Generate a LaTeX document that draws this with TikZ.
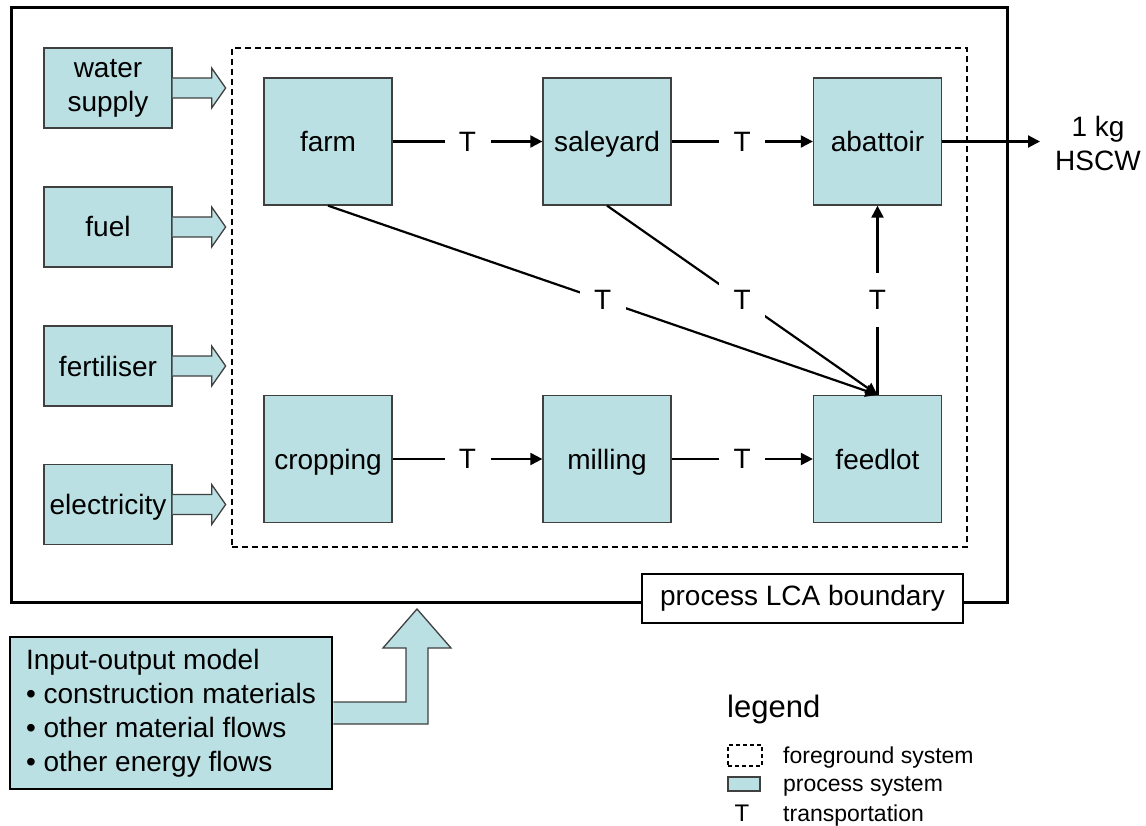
\documentclass[tikz,border=0pt]{standalone}
\usepackage{fontspec}
\setmainfont{Liberation Sans}
\usetikzlibrary{arrows.meta,calc}
\definecolor{procfill}{HTML}{BBE0E3}
\definecolor{procdraw}{HTML}{404040}
\begin{document}
\begin{tikzpicture}[x=1pt,y=-1pt,
  every node/.style={font=\fontsize{28}{34}\selectfont},
  procbase/.style={draw=procdraw, line width=1.3pt, fill=procfill, minimum width=128pt, minimum height=127pt, inner sep=0pt, align=center},
  proc/.style={procbase, text height=20pt, text depth=0pt},
  inbox/.style={proc, minimum height=80pt},
  conn/.style={line width=2.2pt, -{Triangle[length=12pt,width=12pt]}},
  tlab/.style={fill=white, inner sep=0pt, minimum width=46pt, minimum height=54pt},
  blockarrow/.style={draw=procdraw, line width=1.3pt, fill=procfill, line join=miter},
  legtext/.style={anchor=base west, inner sep=0pt, font=\fontsize{23}{28}\selectfont},
]
\useasboundingbox (0,0) rectangle (1146,826);

% outer process LCA boundary
\node[draw, line width=3pt, minimum width=996pt, minimum height=594pt, inner sep=0pt] (outer) at (509,305) {};
% foreground system (dashed)
\node[draw, line width=2pt, dash pattern=on 6pt off 4pt, minimum width=735pt, minimum height=499pt, inner sep=0pt] (fg) at (599.5,297.5) {};

% input boxes
\node[procbase, minimum height=80pt] (water) at (108,88) {water\\supply};
\node[inbox] (fuel) at (108,227) {fuel};
\node[inbox] (fert) at (108,366) {fertiliser};
\node[inbox] (elec) at (108,504.5) {electricity};

\foreach \n in {water,fuel,fert,elec}{
  \draw[blockarrow] ($(\n.east)+(0,-10)$) -- ++(39,0) -- ++(0,-10) -- ++(14,20) -- ++(-14,20) -- ++(0,-10) -- ($(\n.east)+(0,10)$);
}

% process nodes
\node[proc] (farm) at (328,141.5) {farm};
\node[proc] (saleyard) at (607,141.5) {saleyard};
\node[proc] (abattoir) at (877.5,141.5) {abattoir};
\node[proc] (cropping) at (328,459) {cropping};
\node[proc] (milling) at (607,459) {milling};
\node[proc] (feedlot) at (877.5,459) {feedlot};

% transport connectors
\draw[conn] (farm) -- node[tlab] (t1) {T} (saleyard);
\draw[conn] (saleyard) -- node[tlab] (t2) {T} (abattoir);
\draw[conn] (cropping) -- node[tlab] (t3) {T} (milling);
\draw[conn] (milling) -- node[tlab] (t4) {T} (feedlot);
\draw[conn] (farm.south) -- node[tlab] (t5) {T} (feedlot.north);
\draw[conn] (saleyard.south) -- node[tlab] (t6) {T} (feedlot.north);
\draw[conn] (feedlot) -- node[tlab] (t7) {T} (abattoir);

% output
\coordinate (out) at (1040,142);
\draw[conn] (abattoir.east) -- (out |- abattoir.east);
\node[align=center, inner sep=0pt] (hscw) at (1098,143) {1 kg\\HSCW};

% LCA boundary label
\node[draw, line width=2.5pt, fill=white, minimum width=321pt, minimum height=49pt, inner sep=0pt] (lca) at (802.5,598.5) {process LCA boundary};

% input-output model
\node[draw, line width=2.5pt, fill=procfill, minimum width=322pt, minimum height=152pt, inner sep=0pt, align=left] (io) at (171,713) {Input-output model\\• construction materials\\• other material flows\\• other energy flows};
\draw[blockarrow] ($(io.east)+(0,-11)$) -- (406,702) -- (406,648) -- (383,648) -- (417,609) -- (451,648) -- (428,648) -- (428,724) -- ($(io.east)+(0,11)$);

% legend
\node[anchor=base west, inner sep=0pt, font=\fontsize{31}{36}\selectfont] (legtitle) at (727,717) {legend};
\node[draw, line width=1.5pt, dash pattern=on 4pt off 3pt, minimum width=34pt, minimum height=21pt, inner sep=0pt] (legfg) at (745,755.5) {};
\node[draw=procdraw, fill=procfill, line width=1.3pt, minimum width=32pt, minimum height=14pt, inner sep=0pt] (legproc) at (744,784) {};
\node[anchor=base, inner sep=0pt, font=\fontsize{24}{28}\selectfont] (legT) at (742,821) {T};
\node[legtext] (legfgt) at (783,763) {foreground system};
\node[legtext] (legproct) at (783,791) {process system};
\node[legtext] (legTt) at (783,821) {transportation};
\end{tikzpicture}
\end{document}
